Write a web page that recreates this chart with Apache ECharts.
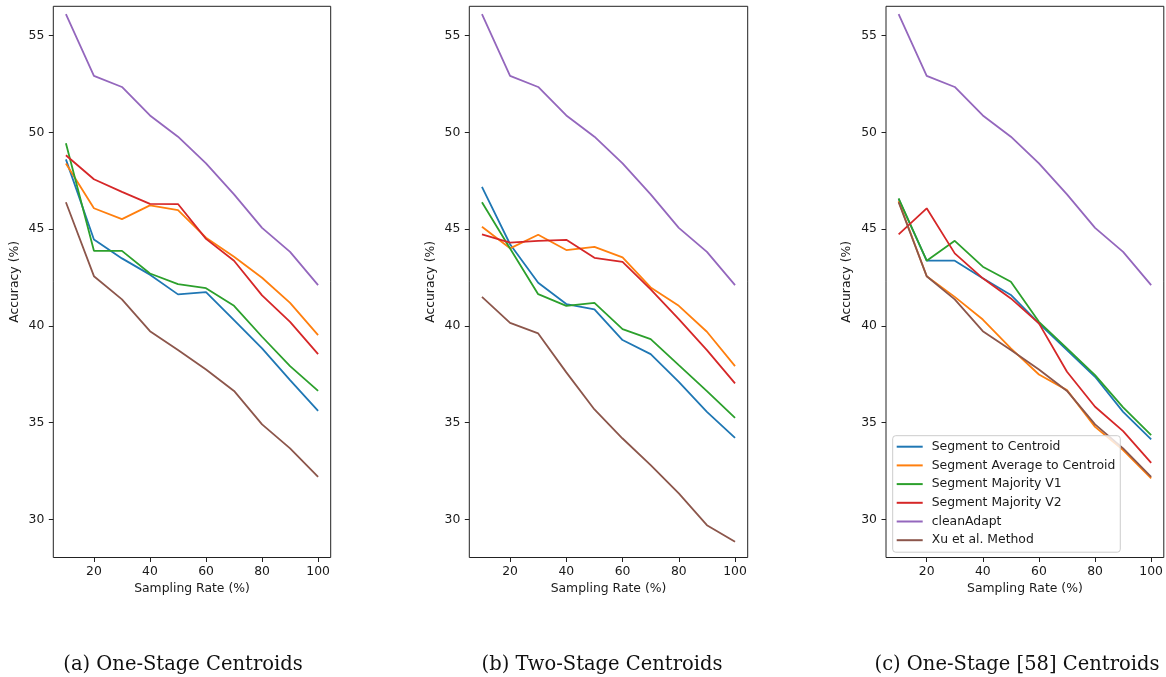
<!DOCTYPE html>
<html>
<head>
<meta charset="utf-8">
<script src="https://cdn.jsdelivr.net/npm/echarts@6/dist/echarts.min.js"></script>
<style>
html,body{margin:0;padding:0;background:#fff;}
#chart{width:1166px;height:677px;}
</style>
</head>
<body>
<div id="chart"></div>
<script>
// ---- data ----
const samplingRates = [10, 20, 30, 40, 50, 60, 70, 80, 90, 100];
const seriesNames = ['Segment to Centroid', 'Segment Average to Centroid', 'Segment Majority V1', 'Segment Majority V2', 'cleanAdapt', 'Xu et al. Method'];
const captions = ['(a) One-Stage Centroids', '(b) Two-Stage Centroids', '(c) One-Stage [58] Centroids'];
const xTicks = [20, 40, 60, 80, 100];
const yTicks = [30, 35, 40, 45, 50, 55];

const cleanAdapt = [56.12, 52.92, 52.35, 50.88, 49.78, 48.40, 46.80, 45.07, 43.83, 42.11];

// (a) One-Stage Centroids
const segCentroidA = [48.61, 44.47, 43.49, 42.65, 41.63, 41.75, 40.30, 38.84, 37.20, 35.61];
const segAverageA  = [48.40, 46.08, 45.52, 46.23, 45.99, 44.56, 43.57, 42.49, 41.19, 39.52];
const majorityV1A  = [49.44, 43.88, 43.88, 42.71, 42.16, 41.95, 41.04, 39.44, 37.92, 36.64];
const majorityV2A  = [48.82, 47.58, 46.93, 46.31, 46.30, 44.50, 43.37, 41.58, 40.21, 38.54];
const xuMethodA    = [46.39, 42.57, 41.37, 39.73, 38.75, 37.75, 36.64, 34.91, 33.67, 32.20];

// (b) Two-Stage Centroids
const segCentroidB = [47.19, 44.22, 42.23, 41.13, 40.85, 39.27, 38.54, 37.11, 35.56, 34.21];
const segAverageB  = [45.13, 44.01, 44.71, 43.92, 44.09, 43.54, 41.99, 41.04, 39.70, 37.92];
const majorityV1B  = [46.39, 44.00, 41.64, 41.04, 41.19, 39.83, 39.32, 37.97, 36.63, 35.25];
const majorityV2B  = [44.73, 44.30, 44.40, 44.45, 43.52, 43.31, 41.89, 40.35, 38.75, 37.03];
const xuMethodB    = [41.50, 40.16, 39.61, 37.60, 35.68, 34.18, 32.80, 31.34, 29.70, 28.84];

// (c) One-Stage [58] Centroids
const segCentroidC = [46.56, 43.37, 43.37, 42.46, 41.60, 40.13, 38.75, 37.37, 35.56, 34.13];
const segAverageC  = [46.45, 42.57, 41.50, 40.33, 38.84, 37.49, 36.68, 34.78, 33.58, 32.12];
const majorityV1C  = [46.59, 43.37, 44.40, 43.06, 42.28, 40.21, 38.84, 37.46, 35.79, 34.35];
const majorityV2C  = [44.73, 46.08, 43.75, 42.46, 41.42, 40.13, 37.63, 35.82, 34.56, 32.92];
const xuMethodC    = [46.39, 42.57, 41.37, 39.73, 38.75, 37.75, 36.64, 34.91, 33.67, 32.20];

// ---- styling / layout ----
const colors = ['#1f77b4', '#ff7f0e', '#2ca02c', '#d62728', '#9467bd', '#8c564b'];
const FONT = 'DejaVu Sans';
const TXT = '#1a1a1a';
const panels = [
  [segCentroidA, segAverageA, majorityV1A, majorityV2A, cleanAdapt, xuMethodA],
  [segCentroidB, segAverageB, majorityV1B, majorityV2B, cleanAdapt, xuMethodB],
  [segCentroidC, segAverageC, majorityV1C, majorityV2C, cleanAdapt, xuMethodC]
];
const gridLefts = [53.3, 469.3, 886];
const gridWidths = [277.4, 278.4, 278];
const captionCenters = [183, 602, 1017];
const LEGEND_LINE = 'path://M0,0 M0,6 L26,6 L26,8 L0,8 Z M26,14';

const grids = [], xAxes = [], yAxes = [], series = [];
panels.forEach((panel, p) => {
  grids.push({
    left: gridLefts[p], width: gridWidths[p], top: 6.3, bottom: 119.5,
    show: true, borderColor: '#222', borderWidth: 1, backgroundColor: 'transparent'
  });
  xAxes.push({
    type: 'value', gridIndex: p, min: 5.5, max: 104.5,
    name: 'Sampling Rate (%)', nameLocation: 'middle', nameGap: 25,
    nameTextStyle: {fontFamily: FONT, fontSize: 12.4, color: TXT},
    axisLine: {show: false},
    splitLine: {show: false},
    axisTick: {show: true, length: 4.5, inside: false, customValues: xTicks, lineStyle: {color: '#222', width: 1}},
    axisLabel: {customValues: xTicks, margin: 8.5, fontFamily: FONT, fontSize: 12.4, color: TXT}
  });
  yAxes.push({
    type: 'value', gridIndex: p, min: 28.03, max: 56.52,
    name: 'Accuracy (%)', nameLocation: 'middle', nameGap: 33, nameRotate: 90,
    nameTextStyle: {fontFamily: FONT, fontSize: 12.4, color: TXT},
    axisLine: {show: false},
    splitLine: {show: false},
    axisTick: {show: true, length: 4.5, inside: false, customValues: yTicks, lineStyle: {color: '#222', width: 1}},
    axisLabel: {customValues: yTicks, margin: 9, fontFamily: FONT, fontSize: 12.4, color: TXT}
  });
  panel.forEach((vals, s) => {
    series.push({
      type: 'line', name: seriesNames[s], xAxisIndex: p, yAxisIndex: p,
      data: samplingRates.map((x, i) => [x, vals[i]]),
      symbol: 'none', showSymbol: false, smooth: false, silent: true,
      lineStyle: {color: colors[s], width: 1.8},
      itemStyle: {color: colors[s]},
      emphasis: {disabled: true},
      animation: false
    });
  });
});

const chart = echarts.init(document.getElementById('chart'), null, {renderer: 'canvas'});
chart.setOption({
  animation: false,
  backgroundColor: '#fff',
  color: colors,
  grid: grids,
  xAxis: xAxes,
  yAxis: yAxes,
  series: series,
  legend: {
    data: seriesNames.map(n => ({name: n, icon: LEGEND_LINE})),
    orient: 'vertical',
    left: 892.7, top: 435.7,
    padding: [4, 5, 5, 4],
    itemWidth: 26, itemHeight: 14, itemGap: 4.7,
    selectedMode: false,
    backgroundColor: 'rgba(255,255,255,0.8)',
    borderColor: '#cccccc', borderWidth: 1, borderRadius: 3,
    textStyle: {fontFamily: FONT, fontSize: 12.4, color: TXT, padding: [0, 0, 0, 4], lineHeight: 14}
  },
  graphic: captions.map((c, i) => ({
    type: 'text', x: captionCenters[i], y: 664.5,
    style: {text: c, font: '19.5px "DejaVu Serif"', fill: '#111', textAlign: 'center', textVerticalAlign: 'middle'}
  }))
});
</script>
</body>
</html>
